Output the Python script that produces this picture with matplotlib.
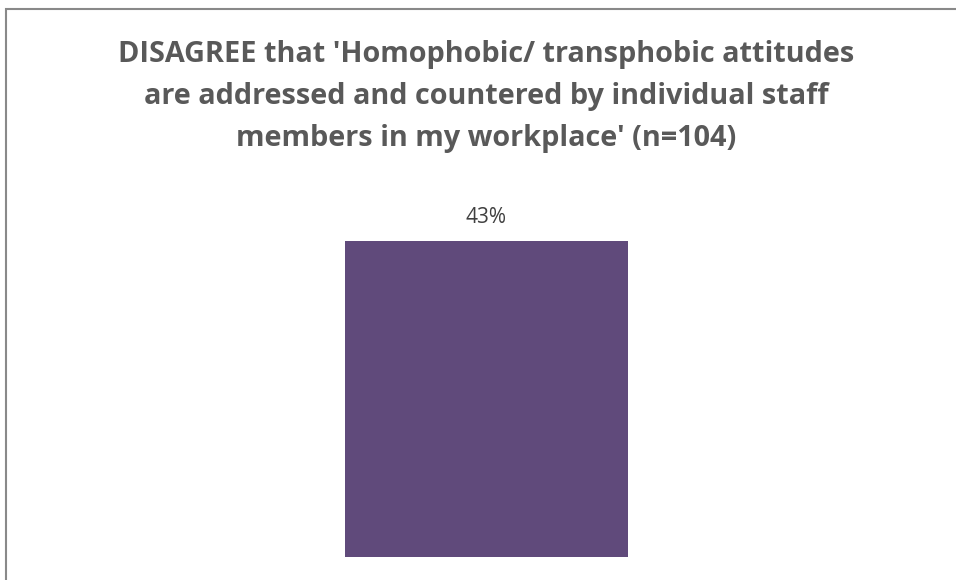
import matplotlib.pyplot as plt
from matplotlib.patches import Rectangle

categories = ["DISAGREE"]
values = [43]
labels = ["43%"]
title_lines = ["DISAGREE that 'Homophobic/ transphobic attitudes",
               "are addressed and countered by individual staff",
               "members in my workplace' (n=104)"]

plt.rcParams['font.family'] = ['Open Sans', 'DejaVu Sans']

W, H = 956, 580
fig = plt.figure(figsize=(W / 100, H / 100), dpi=100)
fig.patch.set_facecolor('white')

# chart frame, runs off the right and bottom edges
fig.patches.append(Rectangle((5.5 / W, -0.1), 1.2, (H - 9.5) / H + 0.1,
                             transform=fig.transFigure, fill=False,
                             edgecolor='#898989', linewidth=1.5))

# title lines, centred on the chart area
cx = 486 / W
for i, line in enumerate(title_lines):
    base = 62.3 + i * 41.7
    fig.text(cx, 1 - base / H, line, ha='center', va='baseline',
             fontsize=20.8, fontweight='bold', color='#595959')

ax = fig.add_axes([250 / W, 23 / H, 473 / W, 367.5 / H])
bars = ax.bar(categories, values, width=0.6, color='#604A7B')
for b, lab in zip(bars, labels):
    ax.text(b.get_x() + b.get_width() / 2, b.get_height() + 2.41, lab,
            ha='center', va='baseline', fontsize=15, color='#404040')
ax.set_xlim(-0.5, 0.5)
ax.set_ylim(0, 50)
ax.axis('off')

fig.savefig('out.png', dpi=100)
